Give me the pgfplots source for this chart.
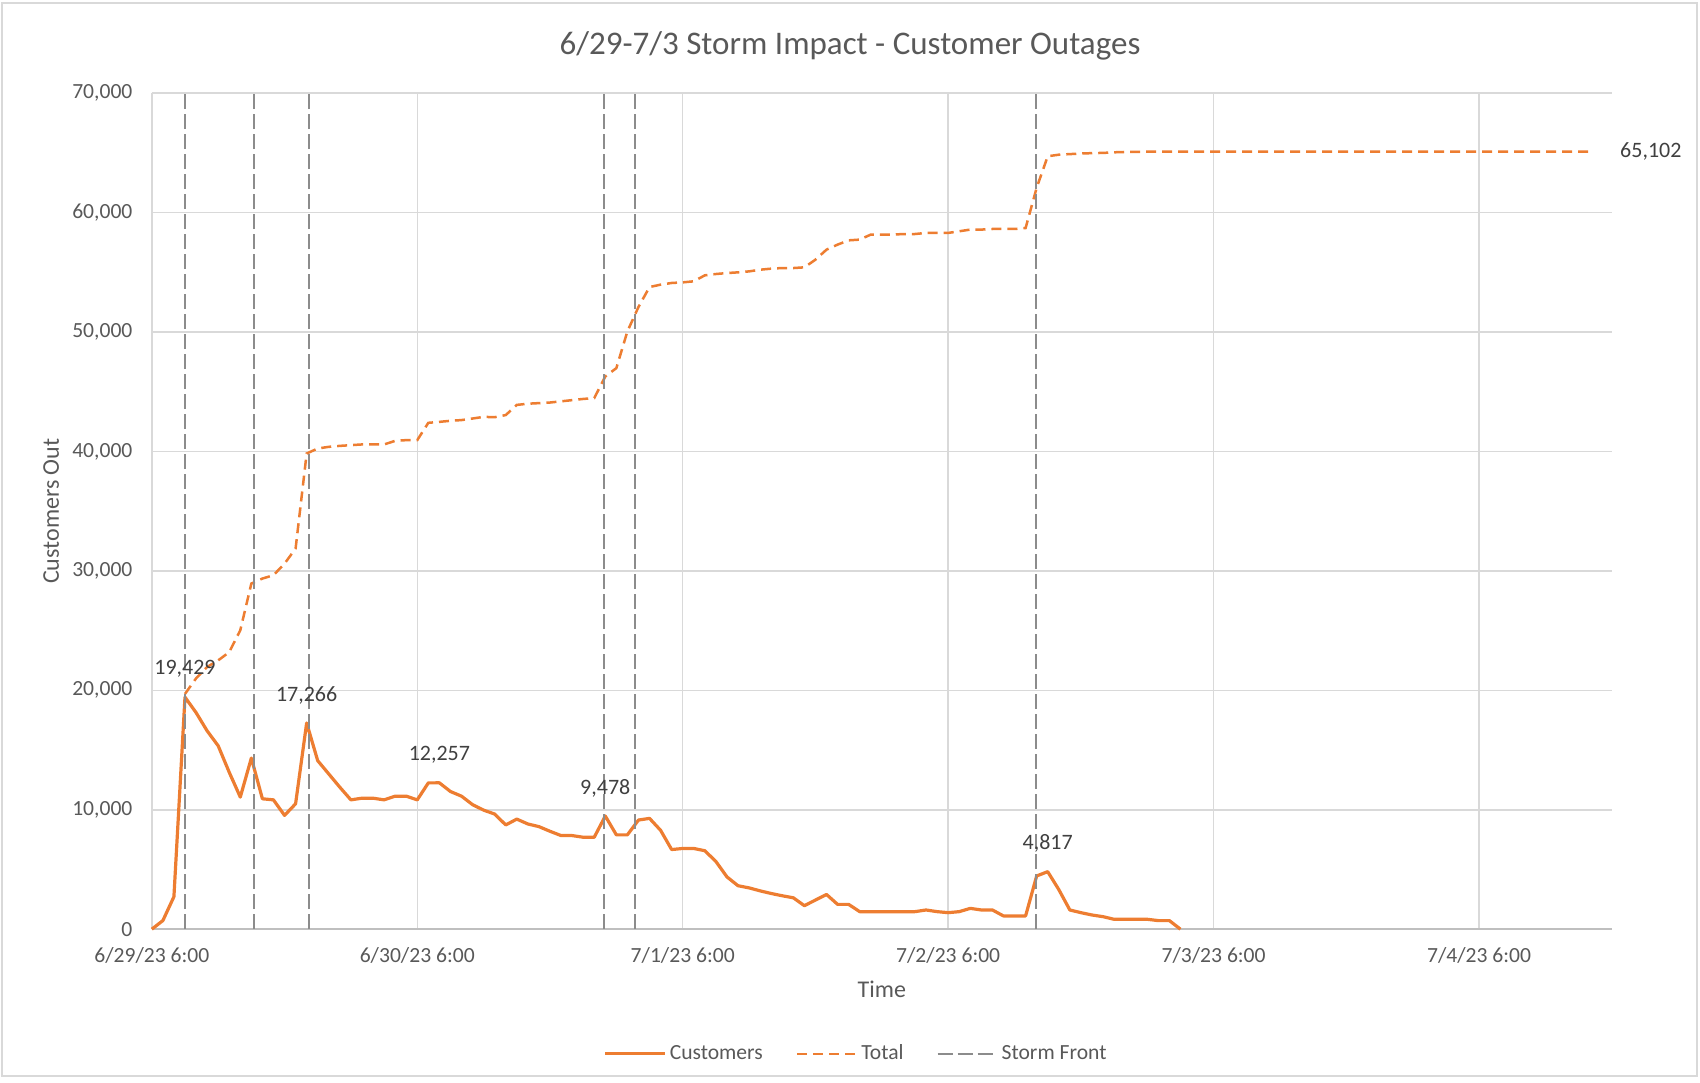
\documentclass[border=0pt]{standalone}
\usepackage{pgfplots}
\pgfplotsset{compat=1.18}
\usepackage{fontspec}
\setmainfont{Carlito}
\definecolor{orng}{HTML}{ED7D31}
\definecolor{stormgray}{HTML}{8C8C8C}
\definecolor{gridgray}{HTML}{D9D9D9}
\definecolor{axgray}{HTML}{BFBFBF}
\definecolor{txtgray}{HTML}{595959}
\definecolor{lblgray}{HTML}{404040}
\begin{document}
\begin{tikzpicture}
\useasboundingbox (0,0) rectangle (850pt,541pt);
\draw[gridgray, line width=0.75pt] (1pt,3pt) rectangle (848.5pt,539.5pt);
\node[txtgray, font=\fontsize{16.5}{20}\selectfont] at (425pt,518.2pt) {6/29-7/3 Storm Impact - Customer Outages};
\begin{axis}[
  at={(75.9pt,76.4pt)}, anchor=south west,
  scale only axis, width=730pt, height=418pt,
  xmin=0, xmax=132, ymin=0, ymax=70000,
  clip=false,
  scaled y ticks=false,
  axis lines=left, axis line style={-},
  x axis line style={axgray, line width=0.75pt},
  y axis line style={gridgray, line width=0.75pt},
  xmajorgrids, ymajorgrids,
  grid style={gridgray, line width=0.75pt},
  major tick length=0pt,
  xtick={0,24,48,72,96,120},
  xticklabels={6/29/23 6:00,6/30/23 6:00,7/1/23 6:00,7/2/23 6:00,7/3/23 6:00,7/4/23 6:00},
  ytick={0,10000,20000,30000,40000,50000,60000,70000},
  yticklabels={0,{10,000},{20,000},{30,000},{40,000},{50,000},{60,000},{70,000}},
  ticklabel style={txtgray, font=\fontsize{10.8}{13}\selectfont, inner sep=0pt},
  yticklabel style={anchor=east, xshift=-9.5pt},
  xticklabel style={anchor=north, yshift=-9pt},
  xlabel={Time}, ylabel={Customers Out},
  label style={txtgray, font=\fontsize{12}{14}\selectfont},
  xlabel style={at={(axis description cs:0.5,-0.0725)}, anchor=center},
  ylabel style={at={(axis description cs:-0.069,0.5)}, anchor=center, rotate=0},
  legend columns=3,
  legend style={at={(axis description cs:0.4827,-0.149)}, anchor=center, draw=none, fill=none,
    font=\fontsize{10.8}{13}\selectfont, text=txtgray,
    /tikz/every even column/.append style={column sep=15pt},
    nodes={inner sep=1.5pt}},
  legend image code/.code={\draw[#1] (0pt,0pt) -- (30pt,0pt);},
]
\addplot[orng, line width=1.6pt, line join=round] coordinates {
(0,0) (1,720) (2,2720) (3,19429) (4,18140) (5,16610) (6,15360) (7,13140) (8,11060) (9,14330)
(10,10920) (11,10830) (12,9530) (13,10500) (14,17266) (15,14110) (16,13000) (17,11890) (18,10830) (19,10970)
(20,10970) (21,10830) (22,11140) (23,11140) (24,10830) (25,12250) (26,12257) (27,11530) (28,11140) (29,10430)
(30,9970) (31,9640) (32,8730) (33,9220) (34,8810) (35,8590) (36,8200) (37,7840) (38,7840) (39,7700)
(40,7700) (41,9478) (42,7900) (43,7900) (44,9140) (45,9280) (46,8280) (47,6670) (48,6760) (49,6760)
(50,6570) (51,5670) (52,4380) (53,3640) (54,3460) (55,3210) (56,2990) (57,2800) (58,2630) (59,1970)
(60,2440) (61,2910) (62,2080) (63,2080) (64,1470) (65,1470) (66,1470) (67,1470) (68,1470) (69,1470)
(70,1610) (71,1470) (72,1385) (73,1470) (74,1745) (75,1610) (76,1610) (77,1110) (78,1110) (79,1110)
(80,4460) (81,4817) (82,3320) (83,1610) (84,1385) (85,1190) (86,1050) (87,830) (88,830) (89,830)
(90,830) (91,720) (92,720) (93,0)
};
\addlegendentry{Customers}
\addplot[orng, line width=1.25pt, dash pattern=on 5pt off 3pt] coordinates {
(3,19700) (4,21000) (5,21960) (6,22510) (7,23200) (8,25030) (9,28940)
(10,29360) (11,29640) (12,30610) (13,31870) (14,39830) (15,40250) (16,40390) (17,40470) (18,40530) (19,40590)
(20,40590) (21,40590) (22,40890) (23,40950) (24,40950) (25,42400) (26,42480) (27,42570) (28,42630) (29,42760)
(30,42900) (31,42870) (32,43050) (33,43900) (34,44000) (35,44050) (36,44100) (37,44200) (38,44300) (39,44400)
(40,44470) (41,46280) (42,46980) (43,50060) (44,52100) (45,53770) (46,53970) (47,54110) (48,54160) (49,54250)
(50,54750) (51,54860) (52,54940) (53,55000) (54,55080) (55,55220) (56,55310) (57,55360) (58,55360) (59,55420)
(60,56060) (61,56900) (62,57320) (63,57680) (64,57740) (65,58160) (66,58160) (67,58160) (68,58210) (69,58210)
(70,58300) (71,58300) (72,58300) (73,58440) (74,58580) (75,58580) (76,58630) (77,58630) (78,58630) (79,58710)
(80,62080) (81,64720) (82,64850) (83,64900) (84,64950) (85,64980) (86,65000) (87,65050) (88,65080) (89,65090)
(90,65100) (95,65102) (100,65102) (105,65102) (110,65102) (115,65102) (120,65102) (125,65102) (130.4,65102)
};
\addlegendentry{Total}
\addplot[stormgray, line width=1pt, dash pattern=on 7.5pt off 2.5pt] coordinates {(3,0) (3,70000)};
\addlegendentry{Storm Front}
\addplot[stormgray, line width=1pt, dash pattern=on 7.5pt off 2.5pt, forget plot] coordinates {(9.2,0) (9.2,70000)};
\addplot[stormgray, line width=1pt, dash pattern=on 7.5pt off 2.5pt, forget plot] coordinates {(14.2,0) (14.2,70000)};
\addplot[stormgray, line width=1pt, dash pattern=on 7.5pt off 2.5pt, forget plot] coordinates {(40.9,0) (40.9,70000)};
\addplot[stormgray, line width=1pt, dash pattern=on 7.5pt off 2.5pt, forget plot] coordinates {(43.7,0) (43.7,70000)};
\addplot[stormgray, line width=1pt, dash pattern=on 7.5pt off 2.5pt, forget plot] coordinates {(79.9,0) (79.9,70000)};
\begin{scope}[every node/.style={lblgray, font=\fontsize{11}{13}\selectfont}]
\node[yshift=14pt] at (axis cs:3,19429) {19,429};
\node[yshift=14pt] at (axis cs:14,17266) {17,266};
\node[yshift=14pt] at (axis cs:26,12257) {12,257};
\node[yshift=14pt] at (axis cs:41,9478) {9,478};
\node[yshift=14pt] at (axis cs:81,4817) {4,817};
\node[anchor=west, xshift=9.5pt] at (axis cs:130.4,65102) {65,102};
\end{scope}
\end{axis}
\end{tikzpicture}
\end{document}
